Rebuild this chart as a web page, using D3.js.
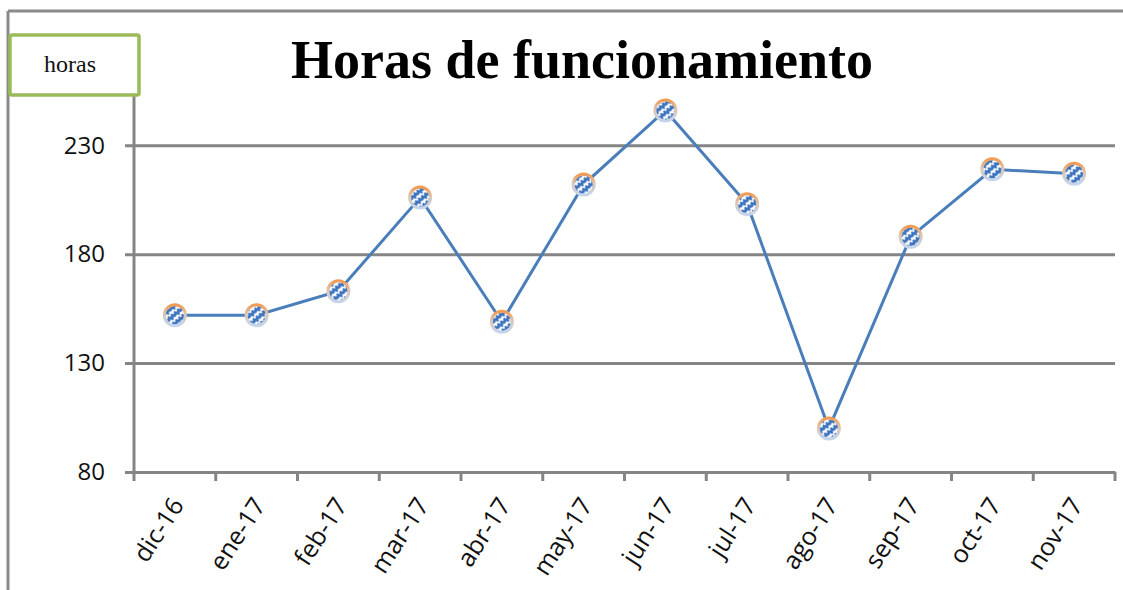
<!DOCTYPE html>
<html>
<head>
<meta charset="utf-8">
<script src="https://cdn.jsdelivr.net/npm/d3@7"></script>
<style>
  body { margin: 0; background: #fff; }
  svg { display: block; }
</style>
</head>
<body>
<svg id="chart" width="1123" height="590"></svg>
<script>
// data
const months = ['dic-16', 'ene-17', 'feb-17', 'mar-17', 'abr-17', 'may-17',
                'jun-17', 'jul-17', 'ago-17', 'sep-17', 'oct-17', 'nov-17'];
const horas = [152, 152, 163, 206, 149, 212, 246, 203, 100, 188, 219, 217];
const yTicks = [80, 130, 180, 230];

const margin = {top: 80, right: 8, bottom: 118, left: 134};
const width = 1115 - margin.left;
const height = 590 - margin.top - margin.bottom;

const svg = d3.select('#chart');

// outer frame (top + left edges only show)
svg.append('line').attr('x1', 8).attr('x2', 1123).attr('y1', 11).attr('y2', 11)
    .attr('stroke', '#8a8a8a').attr('stroke-width', 3);
svg.append('line').attr('x1', 8).attr('x2', 8).attr('y1', 11).attr('y2', 590)
    .attr('stroke', '#8a8a8a').attr('stroke-width', 3);

const defs = svg.append('defs');
const rim = defs.append('linearGradient').attr('id', 'rim')
    .attr('x1', 0).attr('y1', 0).attr('x2', 0).attr('y2', 1);
rim.append('stop').attr('offset', '0%').attr('stop-color', '#f29a50');
rim.append('stop').attr('offset', '45%').attr('stop-color', '#dcc6b4');
rim.append('stop').attr('offset', '100%').attr('stop-color', '#c5d5ee');

const zig = defs.append('pattern').attr('id', 'zig')
    .attr('patternUnits', 'userSpaceOnUse').attr('width', 8).attr('height', 7)
    .attr('patternTransform', 'rotate(-40)');
zig.append('rect').attr('width', 8).attr('height', 7).attr('fill', '#fff');
zig.append('path').attr('d', 'M0,4.5 L2,1.5 L4,4.5 L6,1.5 L8,4.5')
    .attr('fill', 'none').attr('stroke', '#3a72bf').attr('stroke-width', 2.4);

const g = svg.append('g').attr('transform', `translate(${margin.left},${margin.top})`);

const x = d3.scaleBand().domain(months).range([0, width]).padding(0);
const y = d3.scaleLinear().domain([80, 260]).range([height, 0]);

// gridlines + y ticks
g.append('g')
    .call(d3.axisLeft(y).tickValues(yTicks).tickSize(-width).tickSizeOuter(0).tickPadding(29))
    .call(a => a.select('.domain').remove())
    .call(a => a.selectAll('.tick line').attr('x1', -9).attr('stroke', '#858585').attr('stroke-width', 3))
    .call(a => a.selectAll('.tick text').attr('font-family', 'Open Sans, Liberation Sans, sans-serif')
        .attr('font-size', 24).attr('fill', '#111'));

// y axis line
g.append('line').attr('x1', 0).attr('x2', 0).attr('y1', 0).attr('y2', height)
    .attr('stroke', '#858585').attr('stroke-width', 3);

// x axis
const xAxis = g.append('g').attr('transform', `translate(0,${height})`)
    .call(d3.axisBottom(x).tickSize(0).tickPadding(0));
xAxis.select('.domain').attr('stroke', '#858585').attr('stroke-width', 3);
xAxis.selectAll('.tick text')
    .attr('font-family', 'Open Sans, Liberation Sans, sans-serif')
    .attr('font-size', 25).attr('fill', '#111')
    .attr('text-anchor', 'end')
    .attr('dy', 0)
    .attr('transform', 'translate(10,33) rotate(-57)');
// ticks at category boundaries
const bounds = months.map(m => x(m)).concat([x.range()[1]]);
xAxis.selectAll('.bound').data(bounds).enter().append('line')
    .attr('x1', d => d).attr('x2', d => d).attr('y1', 0).attr('y2', 9)
    .attr('stroke', '#858585').attr('stroke-width', 3);

// the line
const cx = (d, i) => x(months[i]) + x.bandwidth() / 2;
g.append('path').datum(horas)
    .attr('fill', 'none').attr('stroke', '#4a7ebb').attr('stroke-width', 3)
    .attr('d', d3.line().x(cx).y(d => y(d)));

// markers
g.selectAll('.pt').data(horas).enter().append('circle')
    .attr('cx', cx).attr('cy', d => y(d)).attr('r', 10.5)
    .attr('fill', 'url(#zig)').attr('stroke', 'url(#rim)').attr('stroke-width', 3);

// title
svg.append('text').attr('x', 582).attr('y', 78).attr('text-anchor', 'middle')
    .attr('font-family', 'Liberation Serif, Times New Roman, serif')
    .attr('font-weight', 'bold').attr('font-size', 54).attr('fill', '#000')
    .text('Horas de funcionamiento');

// units box
svg.append('rect').attr('x', 10).attr('y', 35).attr('width', 129).attr('height', 60)
    .attr('rx', 2).attr('fill', '#fff').attr('stroke', '#9bbb59').attr('stroke-width', 3.5);
svg.append('text').attr('x', 70).attr('y', 72).attr('text-anchor', 'middle')
    .attr('font-family', 'Liberation Serif, Times New Roman, serif')
    .attr('font-size', 24).attr('fill', '#111').text('horas');
</script>
</body>
</html>
